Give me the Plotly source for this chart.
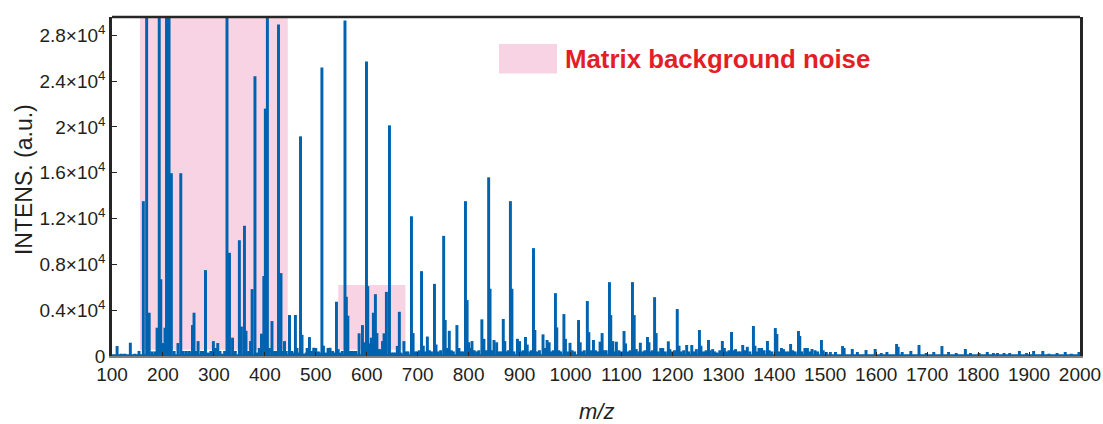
import plotly.graph_objects as go

# ---- data ----
mz = [
    110, 118, 125, 136, 145, 153,
    161.5, 168, 173, 178, 184, 188.5, 192.7, 195.8, 201, 204, 207, 212, 216.5,
    222, 229.5, 235, 240, 246, 252, 258, 261, 265, 269, 275, 278, 283.5, 289, 294, 299, 303,
    307.6, 312, 317, 321, 325.7, 330.6, 336.6, 342, 350, 354, 360, 363, 368, 372, 375, 380.6,
    385, 389, 393.4, 398, 401, 405, 409, 414, 419, 423, 426.8, 431.7, 435, 438.6, 442,
    448.4, 453, 456, 460, 463, 466, 470, 473, 477, 481, 483, 487.6, 492, 496, 500, 505, 508,
    512, 515, 519, 524, 528, 533, 536, 540.6, 544,
    548, 552, 557.3, 560, 563, 567, 571, 575, 579, 585, 591.6, 595, 599.5, 602, 605, 609,
    613, 617, 620, 624, 627, 631, 634, 638.6, 644.6, 648, 652, 656, 660, 664, 667, 673, 677, 681,
    687.8, 691, 695, 699, 703, 707.5, 711, 715, 719, 723, 727, 733, 736, 740, 745, 751, 754,
    757, 762, 766, 770, 777, 781, 785, 789, 793.8, 797, 800, 803, 806.6, 811, 816, 820, 826, 830,
    835, 839.3, 842, 846, 849.8, 855, 860, 864, 868, 871, 875, 878, 882, 885, 889, 895.8, 900,
    904, 907, 911.6, 915, 920, 923, 927.3, 930, 934, 939, 946, 950, 954, 958, 962, 966, 970.4,
    973, 977, 981, 987, 990, 995, 999, 1003, 1008, 1015.7, 1019, 1023, 1027, 1033, 1036, 1040,
    1045, 1049, 1054, 1058, 1062, 1066, 1070, 1076.4, 1079, 1083, 1086, 1090, 1095, 1100, 1105,
    1108, 1112, 1117, 1121.6, 1125, 1129, 1134, 1137, 1142, 1146, 1151, 1154, 1158, 1161, 1165,
    1168, 1172, 1177, 1181, 1186, 1192, 1195, 1200, 1204, 1209.5, 1213, 1217,
    1222, 1228, 1232, 1238, 1243, 1247, 1253, 1256, 1261, 1266, 1270.8, 1274, 1279, 1283, 1288,
    1293, 1298, 1302, 1306, 1311, 1316, 1320, 1324, 1329, 1333, 1338, 1342, 1347, 1352, 1359,
    1362, 1366, 1370, 1375, 1380, 1386.5, 1390, 1395, 1402, 1405, 1409, 1414, 1418, 1423, 1428,
    1432, 1436, 1441, 1447.4, 1450, 1454, 1460, 1465, 1470, 1474, 1480, 1485, 1492.5, 1496,
    1502, 1510, 1520, 1534, 1537, 1553, 1563, 1580, 1598, 1610, 1621, 1640, 1643, 1651, 1668,
    1684, 1698, 1713, 1729, 1742, 1757, 1775, 1785, 1802, 1818, 1830, 1838, 1851, 1862, 1881,
    1895, 1909, 1927, 1939, 1955, 1971, 1983, 1998,
]
intensity = [
    870, 200, 200, 1160, 200, 440,
    13520, 31000, 3780, 400, 400, 2470, 31000, 6700, 1130, 2470, 31000, 31000, 15960,
    440, 1130, 15960, 440, 440, 440, 2700, 3780, 440, 1300, 440, 440, 7500, 300, 440, 1300, 700,
    1130, 440, 200, 440, 31000, 9010, 1600, 440, 10110, 2570, 11370, 2200, 440, 1300, 5840, 24420,
    300, 700, 1950, 6980, 21600, 31000, 700, 3050, 440, 440, 28950, 7240, 440, 1300, 440,
    3580, 440, 300, 3580, 700, 300, 19180, 1850, 200, 300, 700, 1650, 440, 720, 700, 400, 300,
    25200, 900, 300, 700, 720, 440, 300, 4740, 600,
    300, 440, 29300, 5170, 3520, 440, 440, 440, 440, 1980, 2700, 1200, 25720, 6100, 1100, 1600,
    3780, 5400, 2000, 600, 600, 1300, 1980, 5600, 20140, 300, 300, 300, 880, 3860, 300, 1300, 400, 400,
    12200, 2000, 400, 400, 500, 7410, 900, 400, 1700, 500, 400, 6300, 1000, 400, 500, 10490, 3140,
    700, 2200, 500, 400, 2700, 700, 400, 400, 13520, 4880, 1200, 700, 1300, 500, 400, 500, 3200, 1500,
    500, 15600, 5870, 500, 1400, 1200, 400, 400, 3230, 1300, 400, 500, 13520, 5870, 400, 1500, 1300,
    400, 500, 1660, 1000, 400, 500, 9420, 2270, 400, 500, 1890, 700, 1400, 1200, 400, 500, 5490,
    2500, 500, 400, 3660, 1500, 400, 1150, 500, 400, 3140, 1200, 400, 500, 4800, 2080, 500,
    1400, 500, 400, 1250, 2000, 500, 500, 6450, 3570, 1300, 400, 1250, 500, 400, 2180,
    1100, 400, 500, 6450, 3570, 600, 400, 1160, 400, 500, 1660, 1200, 400, 500, 5140,
    2000, 400, 700, 700, 400, 1280, 600, 400, 500, 4100, 900, 400,
    500, 960, 400, 960, 400, 600, 2270, 900, 400, 500, 1400, 500, 600, 400, 300,
    500, 1310, 700, 400, 500, 2100, 500, 600, 400, 400, 960, 500, 800, 400, 2620,
    900, 400, 700, 700, 500, 1310, 500, 400, 2440, 1920, 400, 700, 600, 400, 400,
    1050, 500, 400, 2180, 1750, 400, 700, 700, 400, 610, 500, 400, 1400, 500,
    350, 350, 350, 870, 700, 610, 350, 520, 610, 260, 350, 1050, 800, 350, 440,
    960, 260, 350, 870, 350, 260, 610, 260, 260, 350, 260, 260, 260, 260, 440,
    260, 440, 440, 200, 260, 350, 200, 350,
]
floor_mz = [100, 2000]
floor_level = [150, 150]

# matrix background noise regions: [mz start, mz end, intensity low, intensity high]
noise_regions = [
    [155, 445, 550, 29600],
    [544, 676, 550, 6190],
]

y_tickvals = [0, 4000, 8000, 12000, 16000, 20000, 24000, 28000]
y_ticktext = ["0", "0.4×10<sup>4</sup>", "0.8×10<sup>4</sup>", "1.2×10<sup>4</sup>",
              "1.6×10<sup>4</sup>", "2×10<sup>4</sup>", "2.4×10<sup>4</sup>", "2.8×10<sup>4</sup>"]
x_tickvals = list(range(100, 2001, 100))

BLUE = "#0063AF"
PINK = "#F8D3E4"
FONT = "Liberation Sans, Arial, sans-serif"
TXT = "#231F20"

fig = go.Figure()
fig.add_trace(go.Scatter(x=floor_mz, y=floor_level, mode="lines", fill="tozeroy",
                         line=dict(color=BLUE, width=0), fillcolor=BLUE,
                         hoverinfo="skip", showlegend=False))
fig.add_trace(go.Bar(x=mz, y=intensity, width=5.8, marker=dict(color=BLUE, line=dict(width=0)),
                     showlegend=False))

for x0, x1, y0, y1 in noise_regions:
    fig.add_shape(type="rect", xref="x", yref="y", x0=x0, x1=x1, y0=y0, y1=y1,
                  fillcolor=PINK, line=dict(width=0), layer="below")

# top border
fig.add_shape(type="line", xref="paper", yref="paper", x0=0, x1=1, y0=1, y1=1,
              line=dict(color="#262626", width=2.5))

# legend box and label
fig.add_shape(type="rect", xref="paper", yref="paper", x0=0.3998, x1=0.4597, y0=0.833, y1=0.920,
              fillcolor=PINK, line=dict(width=0))
fig.add_annotation(xref="paper", yref="paper", x=0.466, y=0.877, xanchor="left", yanchor="middle",
                   text="<b>Matrix background noise</b>", showarrow=False,
                   font=dict(family=FONT, size=25.8, color="#E31E26"))

# axis titles
fig.add_annotation(xref="paper", yref="paper", x=-0.0909, y=0.519, xanchor="center",
                   yanchor="middle", textangle=-90, text="INTENS. (a.u.)", showarrow=False,
                   font=dict(family=FONT, size=23, color=TXT))
fig.add_annotation(xref="paper", yref="paper", x=0.5, y=-0.165, xanchor="center",
                   yanchor="middle", text="<i>m/z</i>", showarrow=False,
                   font=dict(family=FONT, size=22, color=TXT))

fig.update_layout(
    width=1103, height=424,
    margin=dict(l=112, r=23, t=17, b=68),
    plot_bgcolor="white", paper_bgcolor="white",
    barmode="overlay",
    font=dict(family=FONT, size=19, color=TXT),
    xaxis=dict(range=[100, 2000], tickvals=x_tickvals, ticks="inside", ticklen=4,
               tickcolor="#262626", showline=True, linecolor="#7f7f7f", linewidth=2,
               showgrid=False, zeroline=False, tickfont=dict(size=19), automargin=False),
    yaxis=dict(range=[0, 29600], tickvals=y_tickvals, ticktext=y_ticktext, ticks="inside",
               ticklen=5, tickcolor="#262626", showline=True, mirror=True, linecolor="#262626",
               linewidth=2.5, showgrid=False, zeroline=False, tickfont=dict(size=19),
               automargin=False),
)

fig.write_html("out.html", config={"displayModeBar": False},
               post_script="document.body.style.margin='0';document.body.style.overflow='hidden';")
